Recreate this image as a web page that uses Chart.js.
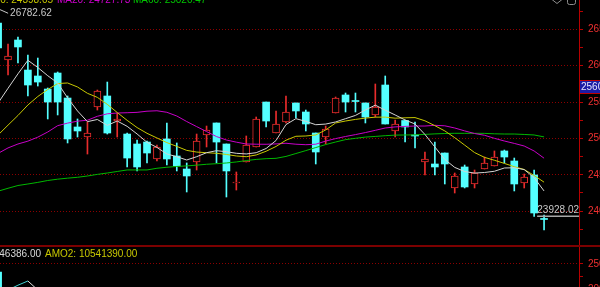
<!DOCTYPE html>
<html><head><meta charset="utf-8">
<script src="https://cdn.jsdelivr.net/npm/chart.js@4.4.0/dist/chart.umd.min.js"></script>
<style>
html,body{margin:0;padding:0;background:#000;width:600px;height:287px;overflow:hidden;}
#wrap{position:relative;width:600px;height:287px;overflow:hidden;background:#000;}
#main{position:absolute;left:0;top:0;}
#sub{position:absolute;left:0;top:247px;}
</style></head><body>
<div id="wrap">
<canvas id="main" width="600" height="247"></canvas>
<canvas id="sub" width="600" height="142"></canvas>
</div>
<script>
// ---------- data ----------
const opens  = [26587,26078,26353,25940,25858,25679,25899,25555,25157,25019,25432,25583,25239,25060,24923,24950,24717,24992,24758,24579,24675,25047,25212,24923,24387,24675,24882,25500,25074,25225,25487,25363,25074,25019,25349,25597,25521,25487,25322,25734,25102,25246,25047,24675,24648,24799,24318,24607,24373,24579,24620,24827,24689,24387,24497,23899];
const highs  = [26782.62,26298,26394,26147,26105,25693,25913,25583,25267,25225,25665,25775,25349,25074,24978,24964,24909,25212,24937,24662,25060,25170,25212,24923,24538,25033,25294,25500,25377,25583,25487,25390,25074,25170,25569,25624,25624,25487,25748,25858,25253,25253,25225,24813,24950,24799,24524,24634,24565,24744,24827,24840,24730,24510,24565,23947];
const lows   = [26215,25872,26037,25583,25720,25267,25322,24937,25019,24785,25390,25060,25019,24607,24552,24662,24689,24634,24552,24263,24565,24882,24662,24194,24290,24675,24882,25157,25074,25212,25280,25102,24648,24923,25349,25363,25363,25212,25294,25198,25019,24950,24868,24497,24497,24373,24249,24318,24318,24579,24620,24662,24277,24318,23928.02,23740];
const closes = [26243,26133,26257,25734,25775,25500,25500,24992,25102,25074,25652,25074,25267,24730,24607,24799,24882,24717,24620,24483,24964,25115,24950,24552,24400,24909,25267,25239,25198,25363,25377,25198,24813,25129,25555,25500,25507,25294,25432,25198,25198,25157,25033,24717,24607,24648,24483,24332,24524,24662,24744,24744,24373,24469,23974,23885];

const ma5  = [25487,25689,25888,26074,25975,25862,25762,25557,25377,25230,25260,25179,25239,25166,25061,24946,24876,24786,24748,24703,24748,24803,24831,24817,24795,24786,24803,24861,24971,25190,25271,25234,25188,25197,25226,25271,25316,25391,25457,25388,25322,25253,25198,25054,24882,24711,24601,24544,24523,24531,24548,24593,24596,24571,24460,24277];
const ma10 = [25047,25182,25315,25459,25576,25672,25754,25762,25707,25620,25564,25468,25356,25248,25149,25070,25006,24942,24890,24835,24812,24803,24795,24779,24758,24748,24772,24823,24889,24975,25029,25033,25047,25116,25212,25239,25261,25279,25292,25292,25278,25283,25286,25242,25175,25103,25010,24908,24805,24739,24699,24656,24611,24572,24490,24398.05];
const ma20 = [24794,24869,24923,24962,25017,25088,25175,25210,25237,25250,25304,25338,25349,25353,25358,25374,25380,25359,25308,25232,25162,25094,25025,24978,24948,24923,24920,24919,24924,24933,24920,24913,24920,24963,24997,25026,25052,25080,25111,25143,25158,25165,25170,25170,25180,25173,25143,25103,25067,25043,25001,24964,24931,24895,24827,24727.73];
const ma60 = [24274,24314,24352,24373,24395,24421,24439,24453,24465,24483,24505,24524,24545,24566,24566,24566,24589,24603,24614,24622,24632,24644,24652,24662,24676,24695,24711,24721,24726,24752,24792,24832,24874,24915,24950,24983,25001,25018,25027,25037,25045,25047,25048,25055,25062,25067,25070,25070,25070,25069,25063,25060,25060,25054,25047,25020.47];

const priceLabelTicks = [26500,26000,25500,25000,24500,24000];
const priceMinorTicks = [26750,26250,25750,25250,24750,24250,23750];

const legendNames  = ['MA10','MA20','MA60'];
const legendValues = ['24398.05','24727.73','25020.47'];

const markerValue = 25700;
const markerText  = '25600.00';

// lower pane (amount) - only the visible pieces
const amoVolumes = [23400000];            // bar of first candle (others below visible area)
const amo1       = [null,19800000,20760000,21600000,19800000];
const amoLabelTicks = [25000000,20000000];
const amoMinorTicks = [22500000];
const amoTexts = ['46386.00','AMO2: 10541390.00'];

// ---------- styles ----------
const FONT = '"Liberation Sans", Arial, sans-serif';
Chart.defaults.font.family = FONT;
Chart.defaults.font.size = 10;
Chart.defaults.animation = false;

const UP = '#e82c2c', DOWN = '#54ffff';
const AXIS_RED = '#b80000', GRID_RED = '#8c0000', LABEL_RED = '#f03030';
const N = opens.length;
const idx = opens.map((_, i) => i);
const isUp = i => closes[i] > opens[i];

const X_MIN = 0.191, X_MAX = 58.52;

function priceAxis(labelSet, allTicks, min, max) {
  return {
    position: 'right', min, max,
    afterBuildTicks: s => { s.ticks = allTicks.slice().sort((a,b)=>b-a).map(v => ({value: v})); },
    afterFit: s => { s.width = 21; s.paddingTop = 0; s.paddingBottom = 0; },
    ticks: {
      autoSkip: false, padding: 5, color: LABEL_RED, font: {size: 10, family: FONT},
      callback: v => labelSet.includes(v) ? String(v) : ''
    },
    grid: {
      drawOnChartArea: true, drawTicks: true, tickLength: 4, lineWidth: 1,
      color: c => (c.tick && labelSet.includes(c.tick.value)) ? GRID_RED : 'rgba(0,0,0,0)',
      tickColor: AXIS_RED
    },
    border: { display: true, color: AXIS_RED, width: 1, dash: [1, 2] }
  };
}
const xAxis = { type: 'linear', min: X_MIN, max: X_MAX, display: false, offset: false, grid: {offset: false} };

const overlay = {
  id: 'overlay',
  afterDraw(chart) {
    const {ctx, scales: {x, y}} = chart;
    ctx.save();
    ctx.font = '10px ' + FONT;
    // legend (top, partly cut)
    ctx.textBaseline = 'alphabetic';
    ctx.textAlign = 'right'; ctx.fillStyle = '#c8c800';
    ctx.fillText(legendNames[0] + ': ' + legendValues[0], 53, 3);
    ctx.textAlign = 'left'; ctx.fillStyle = '#d000d0';
    ctx.fillText(legendNames[1] + ': ' + legendValues[1], 57, 3);
    ctx.fillStyle = '#00c800';
    ctx.fillText(legendNames[2] + ': ' + legendValues[2], 133, 3);

    // max marker
    const hi = Math.max(...highs), iHi = highs.indexOf(hi);
    const hx = x.getPixelForValue(iHi), hy = y.getPixelForValue(hi);
    ctx.strokeStyle = '#c8c8c8'; ctx.lineWidth = 1;
    ctx.beginPath(); ctx.moveTo(hx, hy); ctx.lineTo(hx + 10, hy + 4.5); ctx.stroke();
    ctx.fillStyle = '#c8c8c8'; ctx.textBaseline = 'middle'; ctx.textAlign = 'left';
    ctx.fillText(hi.toFixed(2), hx + 12, hy + 4.8);

    // min marker (completed candles)
    const done = lows.slice(0, N - 1);
    const lo = Math.min(...done), iLo = done.indexOf(lo);
    const lx = x.getPixelForValue(iLo), ly = y.getPixelForValue(lo);
    ctx.strokeStyle = '#a8a8a8'; ctx.lineWidth = 1.5;
    ctx.beginPath(); ctx.moveTo(lx + 3, ly); ctx.lineTo(x.right, ly); ctx.stroke();
    ctx.fillStyle = '#c8c8c8'; ctx.textAlign = 'right'; ctx.textBaseline = 'alphabetic';
    ctx.fillText(lo.toFixed(2), x.right, ly - 3);

    // axis marker box
    const by = Math.round(y.getPixelForValue(markerValue));
    ctx.fillStyle = '#1c1ca4'; ctx.fillRect(580, by - 6, 20, 12);
    ctx.strokeStyle = '#c00000'; ctx.lineWidth = 1;
    ctx.strokeRect(579.5, by - 6.5, 22, 13);
    ctx.fillStyle = '#e4e4ff'; ctx.textAlign = 'left'; ctx.textBaseline = 'middle';
    ctx.fillText(markerText, 581, by + 0.5);

    // small icons top-right
    ctx.strokeStyle = '#8c8c8c'; ctx.lineWidth = 1;
    ctx.beginPath(); ctx.moveTo(552, -0.5); ctx.lineTo(557, 3.5); ctx.lineTo(562, -0.5); ctx.stroke();
    ctx.beginPath(); ctx.roundRect(567.5, -3.5, 8, 8, 2); ctx.stroke();

    // separator
    ctx.fillStyle = '#7c0000'; ctx.fillRect(0, 245, 600, 2);
    ctx.restore();
  }
};

new Chart(document.getElementById('main'), {
  type: 'bar',
  data: {
    datasets: [
      { type: 'bar', label: 'wick', order: 3, grouped: false, barThickness: 1, borderWidth: 0,
        data: idx.map(i => ({x: i, y: [lows[i], highs[i]]})),
        backgroundColor: c => isUp(c.dataIndex) ? UP : DOWN },
      { type: 'bar', label: 'body', order: 2, grouped: false, barThickness: 7, minBarLength: 1,
        borderSkipped: false,
        data: idx.map(i => ({x: i, y: [opens[i], closes[i]]})),
        backgroundColor: c => isUp(c.dataIndex) ? '#000000' : DOWN,
        borderColor: c => isUp(c.dataIndex) ? UP : DOWN,
        borderWidth: c => isUp(c.dataIndex) ? 1 : 0 },
      { type: 'line', label: 'MA5', order: 1, data: idx.map(i => ({x: i, y: ma5[i]})),
        borderColor: '#d4d4d4', borderWidth: 1, pointRadius: 0, tension: 0 },
      { type: 'line', label: 'MA10', order: 1, data: idx.map(i => ({x: i, y: ma10[i]})),
        borderColor: '#c8c800', borderWidth: 1, pointRadius: 0, tension: 0 },
      { type: 'line', label: 'MA20', order: 1, data: idx.map(i => ({x: i, y: ma20[i]})),
        borderColor: '#c800c8', borderWidth: 1, pointRadius: 0, tension: 0 },
      { type: 'line', label: 'MA60', order: 1, data: idx.map(i => ({x: i, y: ma60[i]})),
        borderColor: '#00b800', borderWidth: 1, pointRadius: 0, tension: 0 }
    ]
  },
  options: {
    responsive: false, animation: false,
    layout: { padding: {left: 0, right: 0, top: 0, bottom: 2}, autoPadding: false },
    plugins: { legend: {display: false}, tooltip: {enabled: false} },
    scales: {
      x: xAxis,
      y: priceAxis(priceLabelTicks, priceLabelTicks.concat(priceMinorTicks), 23534, 26903)
    }
  },
  plugins: [overlay]
});

const subOverlay = {
  id: 'subOverlay',
  afterDraw(chart) {
    const {ctx} = chart;
    ctx.save();
    ctx.font = '10px ' + FONT;
    ctx.textBaseline = 'alphabetic';
    ctx.textAlign = 'right'; ctx.fillStyle = '#d8d8d8';
    ctx.fillText(amoTexts[0], 41, 9.7);
    ctx.textAlign = 'left'; ctx.fillStyle = '#c8c800';
    ctx.fillText(amoTexts[1], 45, 9.7);
    ctx.restore();
  }
};

new Chart(document.getElementById('sub'), {
  type: 'bar',
  data: {
    datasets: [
      { type: 'bar', label: 'AMO', order: 2, grouped: false, barThickness: 7, borderWidth: 0,
        data: idx.map(i => ({x: i, y: amoVolumes[i] ?? null})),
        backgroundColor: c => isUp(c.dataIndex) ? UP : DOWN },
      { type: 'line', label: 'AMO1', order: 1, data: idx.map(i => ({x: i, y: amo1[i] ?? null})),
        borderColor: '#e0e0e0', borderWidth: 1, pointRadius: 0, tension: 0, spanGaps: false,
        segment: { borderColor: c => c.p0DataIndex < 3 ? '#40d0d0' : '#e0e0e0' } }
    ]
  },
  options: {
    responsive: false, animation: false,
    layout: { padding: 0, autoPadding: false },
    plugins: { legend: {display: false}, tooltip: {enabled: false} },
    scales: {
      x: xAxis,
      y: priceAxis(amoLabelTicks, amoLabelTicks.concat(amoMinorTicks), 0, 28400000)
    }
  },
  plugins: [subOverlay]
});
</script>
</body></html>
